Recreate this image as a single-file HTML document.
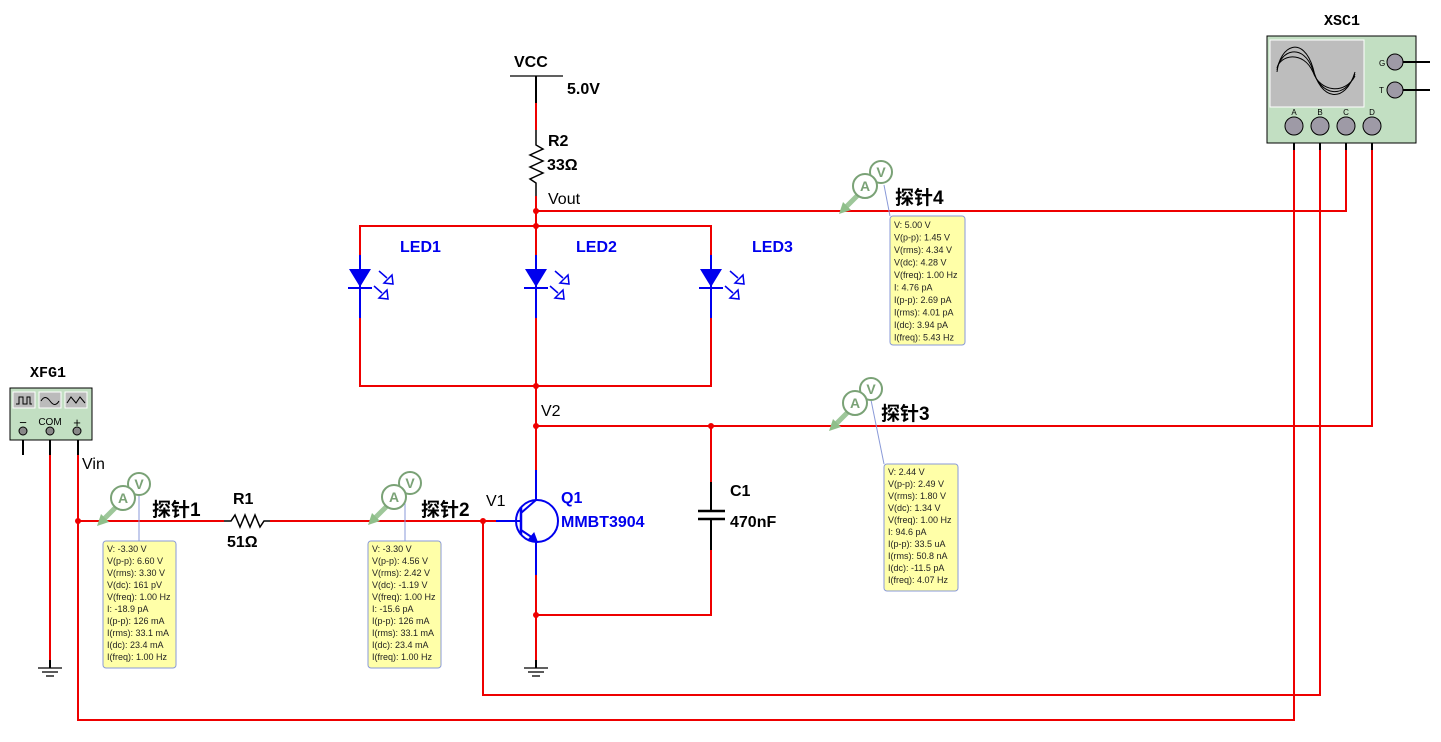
<!DOCTYPE html>
<html><head><meta charset="utf-8"><style>
html,body{margin:0;padding:0;background:#fff;}
svg{display:block;}
.b{font-family:"Liberation Sans",Arial,sans-serif;font-weight:bold;}
.n{font-family:"Liberation Sans",Arial,sans-serif;}
.cn{font-family:"Liberation Sans","Noto Sans CJK SC",sans-serif;font-weight:bold;font-size:19px;}
.tt{font-family:"Liberation Sans",Arial,sans-serif;font-size:9px;fill:#222;}
.m{font-family:"Liberation Mono",monospace;font-weight:bold;}
</style></head><body>
<svg width="1441" height="742" viewBox="0 0 1441 742" xmlns="http://www.w3.org/2000/svg">
<defs>
<g id="probe">
  <line x1="-4" y1="6" x2="-20" y2="22" stroke="#9ec79a" stroke-width="5"/>
  <polygon points="-26,28 -22,16 -14,24" fill="#8fbf8a"/>
  <circle cx="16" cy="-14" r="11" fill="#fff" stroke="#7aa276" stroke-width="2"/>
  <text x="16" y="-9" text-anchor="middle" class="b" font-size="14" fill="#7aa276">V</text>
  <circle cx="0" cy="0" r="12" fill="#fff" stroke="#7aa276" stroke-width="2"/>
  <text x="0" y="5" text-anchor="middle" class="b" font-size="14" fill="#7aa276">A</text>
</g>
<g id="led">
  <polygon points="-11,0 11,0 0,18" fill="#0000ee"/>
  <line x1="-12" y1="19" x2="12" y2="19" stroke="#0000ee" stroke-width="2"/>
  <line x1="19" y1="2" x2="27" y2="9" stroke="#0000ee" stroke-width="1.5"/>
  <polygon points="24,14 32,6 33,15" fill="#fff" stroke="#0000ee" stroke-width="1.5"/>
  <line x1="14" y1="17" x2="22" y2="24" stroke="#0000ee" stroke-width="1.5"/>
  <polygon points="19,29 27,21 28,30" fill="#fff" stroke="#0000ee" stroke-width="1.5"/>
</g>
</defs>

<g fill="none" stroke-width="2">
<line x1="510" y1="76" x2="563" y2="76" stroke="#000" stroke-width="1.3"/>
<line x1="536" y1="76" x2="536" y2="103" stroke="#000"/>
<line x1="536" y1="103" x2="536" y2="130" stroke="#e00"/>
<polyline points="536,130 536,145 543,149 530,155 543,161 530,167 543,173 530,179 536,183 536,196" stroke="#000" stroke-width="1.5"/>
<line x1="536" y1="196" x2="536" y2="226" stroke="#e00"/>
<polyline points="536,211 1346,211 1346,150" stroke="#e00"/>
<line x1="1346" y1="150" x2="1346" y2="130" stroke="#000"/>
<polyline points="360,255 360,226 711,226 711,255" stroke="#e00"/>
<line x1="536" y1="226" x2="536" y2="255" stroke="#e00"/>
<line x1="360" y1="255" x2="360" y2="318" stroke="#0000ee"/>
<line x1="536" y1="255" x2="536" y2="318" stroke="#0000ee"/>
<line x1="711" y1="255" x2="711" y2="318" stroke="#0000ee"/>
<polyline points="360,318 360,386 711,386 711,318" stroke="#e00"/>
<line x1="536" y1="318" x2="536" y2="470" stroke="#e00"/>
<polyline points="536,426 1372,426 1372,150" stroke="#e00"/>
<line x1="1372" y1="150" x2="1372" y2="130" stroke="#000"/>
<line x1="711" y1="426" x2="711" y2="482" stroke="#e00"/>
<line x1="711" y1="482" x2="711" y2="511" stroke="#000"/>
<line x1="698" y1="511" x2="725" y2="511" stroke="#000" stroke-width="2.5"/>
<line x1="698" y1="519" x2="725" y2="519" stroke="#000" stroke-width="2.5"/>
<line x1="711" y1="519" x2="711" y2="550" stroke="#000"/>
<polyline points="711,550 711,615 536,615" stroke="#e00"/>
<line x1="536" y1="470" x2="536" y2="500" stroke="#0000ee"/>
<line x1="536" y1="540" x2="536" y2="575" stroke="#0000ee"/>
<line x1="536" y1="575" x2="536" y2="660" stroke="#e00"/>
<circle cx="537" cy="521" r="21" stroke="#0000ee"/>
<line x1="521" y1="507" x2="521" y2="535" stroke="#0000ee" stroke-width="2.5"/>
<line x1="521" y1="513" x2="536" y2="500" stroke="#0000ee"/>
<line x1="521" y1="530" x2="536" y2="540" stroke="#0000ee"/>
<line x1="496" y1="521" x2="521" y2="521" stroke="#0000ee"/>
<polygon points="537,541 528,540 534,533" fill="#0000ee" stroke="#0000ee" stroke-width="1"/>
<line x1="78" y1="521" x2="224" y2="521" stroke="#e00"/>
<polyline points="224,521 231,521 235,515 240,527 245,515 250,527 255,515 260,527 264,521 270,521" stroke="#000" stroke-width="1.5"/>
<line x1="270" y1="521" x2="496" y2="521" stroke="#e00"/>
<polyline points="483,521 483,695 1320,695 1320,150" stroke="#e00"/>
<line x1="1320" y1="150" x2="1320" y2="130" stroke="#000"/>
<line x1="78" y1="436" x2="78" y2="455" stroke="#000"/>
<polyline points="78,455 78,720 1294,720 1294,150" stroke="#e00"/>
<line x1="1294" y1="150" x2="1294" y2="130" stroke="#000"/>
<line x1="50" y1="436" x2="50" y2="455" stroke="#000"/>
<line x1="50" y1="455" x2="50" y2="668" stroke="#e00"/>
<line x1="23" y1="436" x2="23" y2="455" stroke="#000"/>
<line x1="536" y1="660" x2="536" y2="668" stroke="#000"/>
<line x1="50" y1="660" x2="50" y2="668" stroke="#000"/>
</g>
<g stroke="#000" stroke-width="1.3">
<line x1="38" y1="668" x2="62" y2="668"/><line x1="42" y1="672" x2="58" y2="672"/><line x1="46" y1="676" x2="54" y2="676"/>
<line x1="524" y1="668" x2="548" y2="668"/><line x1="528" y1="672" x2="544" y2="672"/><line x1="532" y1="676" x2="540" y2="676"/>
</g>
<g fill="#e00">
<circle cx="536" cy="211" r="3"/><circle cx="536" cy="226" r="3"/><circle cx="536" cy="386" r="3"/>
<circle cx="536" cy="426" r="3"/><circle cx="711" cy="426" r="3"/><circle cx="536" cy="615" r="3"/>
<circle cx="78" cy="521" r="3"/><circle cx="483" cy="521" r="3"/>
</g>
<use href="#led" x="360" y="269"/>
<use href="#led" x="536" y="269"/>
<use href="#led" x="711" y="269"/>

<text x="514" y="67" class="b" font-size="16">VCC</text>
<text x="567" y="94" class="b" font-size="16">5.0V</text>
<text x="548" y="146" class="b" font-size="16">R2</text>
<text x="547" y="170" class="b" font-size="16">33Ω</text>
<text x="548" y="204" class="n" font-size="16">Vout</text>
<text x="400" y="252" class="b" font-size="16" fill="#0000ee">LED1</text>
<text x="576" y="252" class="b" font-size="16" fill="#0000ee">LED2</text>
<text x="752" y="252" class="b" font-size="16" fill="#0000ee">LED3</text>
<text x="541" y="416" class="n" font-size="16">V2</text>
<text x="486" y="506" class="n" font-size="16">V1</text>
<text x="561" y="503" class="b" font-size="16" fill="#0000ee">Q1</text>
<text x="561" y="527" class="b" font-size="16" fill="#0000ee">MMBT3904</text>
<text x="730" y="496" class="b" font-size="16">C1</text>
<text x="730" y="527" class="b" font-size="16">470nF</text>
<text x="233" y="504" class="b" font-size="16">R1</text>
<text x="227" y="547" class="b" font-size="16">51Ω</text>
<text x="82" y="469" class="n" font-size="16">Vin</text>

<text x="48" y="377" class="m" font-size="15" text-anchor="middle">XFG1</text>
<rect x="10" y="388" width="82" height="52" fill="#c2dfc2" stroke="#000" stroke-width="1"/>
<g stroke="#fff" fill="#bbb"><rect x="13" y="392" width="22" height="16"/><rect x="39" y="392" width="22" height="16"/><rect x="65" y="392" width="22" height="16"/></g>
<polyline points="16,404 19,404 19,397 23,397 23,404 27,404 27,397 30,397 30,404 32,404" fill="none" stroke="#000" stroke-width="1"/>
<path d="M41,401 Q45,394 50,401 T59,401" fill="none" stroke="#000" stroke-width="1"/>
<polyline points="67,403 71,397 76,403 80,397 85,403" fill="none" stroke="#000" stroke-width="1"/>
<text x="50" y="425" class="n" font-size="10" text-anchor="middle">COM</text>
<text x="23" y="427" class="n" font-size="13" text-anchor="middle">−</text>
<text x="77" y="427" class="n" font-size="13" text-anchor="middle">+</text>
<g fill="#888" stroke="#000" stroke-width="1"><circle cx="23" cy="431" r="4"/><circle cx="50" cy="431" r="4"/><circle cx="77" cy="431" r="4"/></g>

<text x="1342" y="25" class="m" font-size="15" text-anchor="middle">XSC1</text>
<rect x="1267" y="36" width="149" height="107" fill="#c2dfc2" stroke="#000" stroke-width="1"/>
<rect x="1270" y="40" width="94" height="67" fill="#bdbdbd" stroke="#fff" stroke-width="1"/>
<g fill="none" stroke="#000" stroke-width="1">
<path d="M1277,72 C1280,45 1303,35 1313,68 C1320,100 1345,105 1355,72"/>
<path d="M1277,70 C1280,50 1303,42 1313,70 C1320,96 1345,100 1355,74"/>
<path d="M1277,68 C1280,55 1303,50 1313,72 C1320,92 1345,95 1355,76"/>
</g>
<text x="1379" y="66" class="n" font-size="8">G</text><text x="1379" y="93" class="n" font-size="8">T</text>
<g font-size="8" class="n" text-anchor="middle"><text x="1294" y="115">A</text><text x="1320" y="115">B</text><text x="1346" y="115">C</text><text x="1372" y="115">D</text></g>
<g fill="#9e9aa6" stroke="#000" stroke-width="1">
<circle cx="1395" cy="62" r="8"/><circle cx="1395" cy="90" r="8"/>
<circle cx="1294" cy="126" r="9"/><circle cx="1320" cy="126" r="9"/><circle cx="1346" cy="126" r="9"/><circle cx="1372" cy="126" r="9"/>
</g>
<g stroke="#000" stroke-width="2"><line x1="1403" y1="62" x2="1430" y2="62"/><line x1="1403" y1="90" x2="1430" y2="90"/></g>

<g stroke="#8a9ad8" stroke-width="1">
<line x1="139" y1="495" x2="139" y2="541"/>
<line x1="405" y1="495" x2="405" y2="541"/>
<line x1="871" y1="400" x2="884" y2="464"/>
<line x1="884" y1="185" x2="890" y2="216"/>
</g>
<use href="#probe" x="123" y="498"/>
<use href="#probe" x="394" y="497"/>
<use href="#probe" x="855" y="403"/>
<use href="#probe" x="865" y="186"/>
<text x="152" y="516" class="cn">探针1</text>
<text x="421" y="516" class="cn">探针2</text>
<text x="881" y="420" class="cn">探针3</text>
<text x="895" y="204" class="cn">探针4</text>

<g fill="#ffffa8" stroke="#8a9ad8" stroke-width="1">
<rect x="103" y="541" width="73" height="127" rx="3"/>
<rect x="368" y="541" width="73" height="127" rx="3"/>
<rect x="884" y="464" width="74" height="127" rx="3"/>
<rect x="890" y="216" width="75" height="129" rx="3"/>
</g>
<text class="tt"><tspan x="107" y="552">V: -3.30 V</tspan><tspan x="107" dy="12">V(p-p): 6.60 V</tspan><tspan x="107" dy="12">V(rms): 3.30 V</tspan><tspan x="107" dy="12">V(dc): 161 pV</tspan><tspan x="107" dy="12">V(freq): 1.00 Hz</tspan><tspan x="107" dy="12">I: -18.9 pA</tspan><tspan x="107" dy="12">I(p-p): 126 mA</tspan><tspan x="107" dy="12">I(rms): 33.1 mA</tspan><tspan x="107" dy="12">I(dc): 23.4 mA</tspan><tspan x="107" dy="12">I(freq): 1.00 Hz</tspan></text>
<text class="tt"><tspan x="372" y="552">V: -3.30 V</tspan><tspan x="372" dy="12">V(p-p): 4.56 V</tspan><tspan x="372" dy="12">V(rms): 2.42 V</tspan><tspan x="372" dy="12">V(dc): -1.19 V</tspan><tspan x="372" dy="12">V(freq): 1.00 Hz</tspan><tspan x="372" dy="12">I: -15.6 pA</tspan><tspan x="372" dy="12">I(p-p): 126 mA</tspan><tspan x="372" dy="12">I(rms): 33.1 mA</tspan><tspan x="372" dy="12">I(dc): 23.4 mA</tspan><tspan x="372" dy="12">I(freq): 1.00 Hz</tspan></text>
<text class="tt"><tspan x="888" y="475">V: 2.44 V</tspan><tspan x="888" dy="12">V(p-p): 2.49 V</tspan><tspan x="888" dy="12">V(rms): 1.80 V</tspan><tspan x="888" dy="12">V(dc): 1.34 V</tspan><tspan x="888" dy="12">V(freq): 1.00 Hz</tspan><tspan x="888" dy="12">I: 94.6 pA</tspan><tspan x="888" dy="12">I(p-p): 33.5 uA</tspan><tspan x="888" dy="12">I(rms): 50.8 nA</tspan><tspan x="888" dy="12">I(dc): -11.5 pA</tspan><tspan x="888" dy="12">I(freq): 4.07 Hz</tspan></text>
<text class="tt"><tspan x="894" y="228">V: 5.00 V</tspan><tspan x="894" dy="12.5">V(p-p): 1.45 V</tspan><tspan x="894" dy="12.5">V(rms): 4.34 V</tspan><tspan x="894" dy="12.5">V(dc): 4.28 V</tspan><tspan x="894" dy="12.5">V(freq): 1.00 Hz</tspan><tspan x="894" dy="12.5">I: 4.76 pA</tspan><tspan x="894" dy="12.5">I(p-p): 2.69 pA</tspan><tspan x="894" dy="12.5">I(rms): 4.01 pA</tspan><tspan x="894" dy="12.5">I(dc): 3.94 pA</tspan><tspan x="894" dy="12.5">I(freq): 5.43 Hz</tspan></text>
</svg>
</body></html>
